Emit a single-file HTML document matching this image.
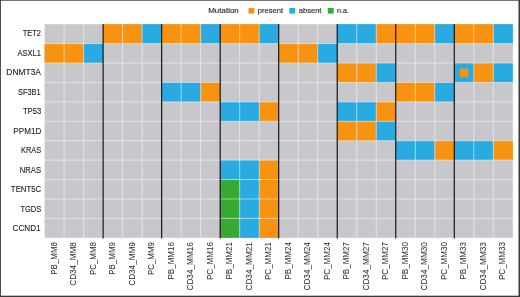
<!DOCTYPE html>
<html lang="en"><head><meta charset="utf-8"><title>Mutation heatmap</title>
<style>
html,body{margin:0;padding:0;background:#fff;}
body{width:520px;height:297px;overflow:hidden;}
svg{display:block;}
text{font-family:"Liberation Sans",Arial,sans-serif;fill:#231f20;stroke:#231f20;stroke-width:0.12px;}
.ax{font-size:9px;}
.cx{font-size:8.3px;stroke:none;fill:#2b2829;}
.lg{font-size:7.5px;}
</style></head><body>
<svg width="520" height="297" viewBox="0 0 520 297">
<rect x="0" y="0" width="520" height="297" fill="#fff"/>
<rect x="44.58" y="24.20" width="468.24" height="213.62" fill="#C8C7CC"/>
<rect x="103.11" y="24.20" width="19.51" height="19.42" fill="#F89312"/>
<rect x="122.62" y="24.20" width="19.51" height="19.42" fill="#F89312"/>
<rect x="142.13" y="24.20" width="19.51" height="19.42" fill="#29ABE2"/>
<rect x="161.64" y="24.20" width="19.51" height="19.42" fill="#F89312"/>
<rect x="181.15" y="24.20" width="19.51" height="19.42" fill="#F89312"/>
<rect x="200.66" y="24.20" width="19.51" height="19.42" fill="#29ABE2"/>
<rect x="220.17" y="24.20" width="19.51" height="19.42" fill="#F89312"/>
<rect x="239.68" y="24.20" width="19.51" height="19.42" fill="#F89312"/>
<rect x="259.19" y="24.20" width="19.51" height="19.42" fill="#29ABE2"/>
<rect x="337.23" y="24.20" width="19.51" height="19.42" fill="#29ABE2"/>
<rect x="356.74" y="24.20" width="19.51" height="19.42" fill="#29ABE2"/>
<rect x="376.25" y="24.20" width="19.51" height="19.42" fill="#F89312"/>
<rect x="395.76" y="24.20" width="19.51" height="19.42" fill="#F89312"/>
<rect x="415.27" y="24.20" width="19.51" height="19.42" fill="#F89312"/>
<rect x="434.78" y="24.20" width="19.51" height="19.42" fill="#29ABE2"/>
<rect x="454.29" y="24.20" width="19.51" height="19.42" fill="#F89312"/>
<rect x="473.80" y="24.20" width="19.51" height="19.42" fill="#F89312"/>
<rect x="493.31" y="24.20" width="19.51" height="19.42" fill="#29ABE2"/>
<rect x="44.58" y="43.62" width="19.51" height="19.42" fill="#F89312"/>
<rect x="64.09" y="43.62" width="19.51" height="19.42" fill="#F89312"/>
<rect x="83.60" y="43.62" width="19.51" height="19.42" fill="#29ABE2"/>
<rect x="278.70" y="43.62" width="19.51" height="19.42" fill="#F89312"/>
<rect x="298.21" y="43.62" width="19.51" height="19.42" fill="#F89312"/>
<rect x="317.72" y="43.62" width="19.51" height="19.42" fill="#29ABE2"/>
<rect x="337.23" y="63.04" width="19.51" height="19.42" fill="#F89312"/>
<rect x="356.74" y="63.04" width="19.51" height="19.42" fill="#F89312"/>
<rect x="376.25" y="63.04" width="19.51" height="19.42" fill="#29ABE2"/>
<rect x="454.29" y="63.04" width="19.51" height="19.42" fill="#29ABE2"/>
<rect x="460.00" y="68.60" width="8.3" height="8.3" fill="#F89312"/>
<rect x="473.80" y="63.04" width="19.51" height="19.42" fill="#F89312"/>
<rect x="493.31" y="63.04" width="19.51" height="19.42" fill="#29ABE2"/>
<rect x="161.64" y="82.46" width="19.51" height="19.42" fill="#29ABE2"/>
<rect x="181.15" y="82.46" width="19.51" height="19.42" fill="#29ABE2"/>
<rect x="200.66" y="82.46" width="19.51" height="19.42" fill="#F89312"/>
<rect x="395.76" y="82.46" width="19.51" height="19.42" fill="#F89312"/>
<rect x="415.27" y="82.46" width="19.51" height="19.42" fill="#F89312"/>
<rect x="434.78" y="82.46" width="19.51" height="19.42" fill="#29ABE2"/>
<rect x="220.17" y="101.88" width="19.51" height="19.42" fill="#29ABE2"/>
<rect x="239.68" y="101.88" width="19.51" height="19.42" fill="#29ABE2"/>
<rect x="259.19" y="101.88" width="19.51" height="19.42" fill="#F89312"/>
<rect x="337.23" y="101.88" width="19.51" height="19.42" fill="#29ABE2"/>
<rect x="356.74" y="101.88" width="19.51" height="19.42" fill="#29ABE2"/>
<rect x="376.25" y="101.88" width="19.51" height="19.42" fill="#F89312"/>
<rect x="337.23" y="121.30" width="19.51" height="19.42" fill="#F89312"/>
<rect x="356.74" y="121.30" width="19.51" height="19.42" fill="#F89312"/>
<rect x="376.25" y="121.30" width="19.51" height="19.42" fill="#29ABE2"/>
<rect x="395.76" y="140.72" width="19.51" height="19.42" fill="#29ABE2"/>
<rect x="415.27" y="140.72" width="19.51" height="19.42" fill="#29ABE2"/>
<rect x="434.78" y="140.72" width="19.51" height="19.42" fill="#F89312"/>
<rect x="454.29" y="140.72" width="19.51" height="19.42" fill="#29ABE2"/>
<rect x="473.80" y="140.72" width="19.51" height="19.42" fill="#29ABE2"/>
<rect x="493.31" y="140.72" width="19.51" height="19.42" fill="#F89312"/>
<rect x="220.17" y="160.14" width="19.51" height="19.42" fill="#29ABE2"/>
<rect x="239.68" y="160.14" width="19.51" height="19.42" fill="#29ABE2"/>
<rect x="259.19" y="160.14" width="19.51" height="19.42" fill="#F89312"/>
<rect x="220.17" y="179.56" width="19.51" height="19.42" fill="#38AA34"/>
<rect x="239.68" y="179.56" width="19.51" height="19.42" fill="#29ABE2"/>
<rect x="259.19" y="179.56" width="19.51" height="19.42" fill="#F89312"/>
<rect x="220.17" y="198.98" width="19.51" height="19.42" fill="#38AA34"/>
<rect x="239.68" y="198.98" width="19.51" height="19.42" fill="#29ABE2"/>
<rect x="259.19" y="198.98" width="19.51" height="19.42" fill="#F89312"/>
<rect x="220.17" y="218.40" width="19.51" height="19.42" fill="#38AA34"/>
<rect x="239.68" y="218.40" width="19.51" height="19.42" fill="#29ABE2"/>
<rect x="259.19" y="218.40" width="19.51" height="19.42" fill="#F89312"/>
<path d="M64.09 24.20V237.82M83.60 24.20V237.82M122.62 24.20V237.82M142.13 24.20V237.82M181.15 24.20V237.82M200.66 24.20V237.82M239.68 24.20V237.82M259.19 24.20V237.82M298.21 24.20V237.82M317.72 24.20V237.82M356.74 24.20V237.82M376.25 24.20V237.82M415.27 24.20V237.82M434.78 24.20V237.82M473.80 24.20V237.82M493.31 24.20V237.82M44.58 43.62H512.82M44.58 63.04H512.82M44.58 82.46H512.82M44.58 101.88H512.82M44.58 121.30H512.82M44.58 140.72H512.82M44.58 160.14H512.82M44.58 179.56H512.82M44.58 198.98H512.82M44.58 218.40H512.82" stroke="#fff" stroke-width="0.9" stroke-opacity="0.55" fill="none"/>
<path d="M103.11 23.90V238.62M161.64 23.90V238.62M220.17 23.90V238.62M278.70 23.90V238.62M337.23 23.90V238.62M395.76 23.90V238.62M454.29 23.90V238.62" stroke="#111" stroke-width="1.15" fill="none"/>
<text class="ax" x="41.05" y="36.30" text-anchor="end" textLength="18.38" lengthAdjust="spacingAndGlyphs">TET2</text>
<text class="ax" x="40.98" y="55.80" text-anchor="end" textLength="23.46" lengthAdjust="spacingAndGlyphs">ASXL1</text>
<text class="ax" x="41.00" y="75.30" text-anchor="end" textLength="34.71" lengthAdjust="spacingAndGlyphs">DNMT3A</text>
<text class="ax" x="40.75" y="94.80" text-anchor="end" textLength="22.81" lengthAdjust="spacingAndGlyphs">SF3B1</text>
<text class="ax" x="41.25" y="114.30" text-anchor="end" textLength="18.31" lengthAdjust="spacingAndGlyphs">TP53</text>
<text class="ax" x="41.25" y="133.80" text-anchor="end" textLength="27.90" lengthAdjust="spacingAndGlyphs">PPM1D</text>
<text class="ax" x="41.25" y="153.30" text-anchor="end" textLength="20.28" lengthAdjust="spacingAndGlyphs">KRAS</text>
<text class="ax" x="41.05" y="172.80" text-anchor="end" textLength="21.31" lengthAdjust="spacingAndGlyphs">NRAS</text>
<text class="ax" x="41.25" y="192.30" text-anchor="end" textLength="30.38" lengthAdjust="spacingAndGlyphs">TENT5C</text>
<text class="ax" x="41.25" y="211.80" text-anchor="end" textLength="20.81" lengthAdjust="spacingAndGlyphs">TGDS</text>
<text class="ax" x="40.55" y="231.30" text-anchor="end" textLength="28.04" lengthAdjust="spacingAndGlyphs">CCND1</text>
<text class="cx" transform="translate(56.69 242.1) rotate(-90)" x="0" y="0" text-anchor="end" textLength="32.6" lengthAdjust="spacingAndGlyphs">PB_MM8</text>
<text class="cx" transform="translate(76.19 242.1) rotate(-90)" x="0" y="0" text-anchor="end" textLength="43.7" lengthAdjust="spacingAndGlyphs">CD34_MM8</text>
<text class="cx" transform="translate(95.70 242.1) rotate(-90)" x="0" y="0" text-anchor="end" textLength="33.0" lengthAdjust="spacingAndGlyphs">PC_MM8</text>
<text class="cx" transform="translate(115.22 242.1) rotate(-90)" x="0" y="0" text-anchor="end" textLength="32.6" lengthAdjust="spacingAndGlyphs">PB_MM9</text>
<text class="cx" transform="translate(134.72 242.1) rotate(-90)" x="0" y="0" text-anchor="end" textLength="43.7" lengthAdjust="spacingAndGlyphs">CD34_MM9</text>
<text class="cx" transform="translate(154.23 242.1) rotate(-90)" x="0" y="0" text-anchor="end" textLength="33.0" lengthAdjust="spacingAndGlyphs">PC_MM9</text>
<text class="cx" transform="translate(173.75 242.1) rotate(-90)" x="0" y="0" text-anchor="end" textLength="37.4" lengthAdjust="spacingAndGlyphs">PB_MM16</text>
<text class="cx" transform="translate(193.26 242.1) rotate(-90)" x="0" y="0" text-anchor="end" textLength="48.4" lengthAdjust="spacingAndGlyphs">CD34_MM16</text>
<text class="cx" transform="translate(212.77 242.1) rotate(-90)" x="0" y="0" text-anchor="end" textLength="37.9" lengthAdjust="spacingAndGlyphs">PC_MM16</text>
<text class="cx" transform="translate(232.28 242.1) rotate(-90)" x="0" y="0" text-anchor="end" textLength="37.4" lengthAdjust="spacingAndGlyphs">PB_MM21</text>
<text class="cx" transform="translate(251.78 242.1) rotate(-90)" x="0" y="0" text-anchor="end" textLength="48.4" lengthAdjust="spacingAndGlyphs">CD34_MM21</text>
<text class="cx" transform="translate(271.30 242.1) rotate(-90)" x="0" y="0" text-anchor="end" textLength="37.9" lengthAdjust="spacingAndGlyphs">PC_MM21</text>
<text class="cx" transform="translate(290.81 242.1) rotate(-90)" x="0" y="0" text-anchor="end" textLength="37.4" lengthAdjust="spacingAndGlyphs">PB_MM24</text>
<text class="cx" transform="translate(310.32 242.1) rotate(-90)" x="0" y="0" text-anchor="end" textLength="48.4" lengthAdjust="spacingAndGlyphs">CD34_MM24</text>
<text class="cx" transform="translate(329.83 242.1) rotate(-90)" x="0" y="0" text-anchor="end" textLength="37.9" lengthAdjust="spacingAndGlyphs">PC_MM24</text>
<text class="cx" transform="translate(349.34 242.1) rotate(-90)" x="0" y="0" text-anchor="end" textLength="37.4" lengthAdjust="spacingAndGlyphs">PB_MM27</text>
<text class="cx" transform="translate(368.85 242.1) rotate(-90)" x="0" y="0" text-anchor="end" textLength="48.4" lengthAdjust="spacingAndGlyphs">CD34_MM27</text>
<text class="cx" transform="translate(388.36 242.1) rotate(-90)" x="0" y="0" text-anchor="end" textLength="37.9" lengthAdjust="spacingAndGlyphs">PC_MM27</text>
<text class="cx" transform="translate(407.87 242.1) rotate(-90)" x="0" y="0" text-anchor="end" textLength="37.4" lengthAdjust="spacingAndGlyphs">PB_MM30</text>
<text class="cx" transform="translate(427.38 242.1) rotate(-90)" x="0" y="0" text-anchor="end" textLength="48.4" lengthAdjust="spacingAndGlyphs">CD34_MM30</text>
<text class="cx" transform="translate(446.89 242.1) rotate(-90)" x="0" y="0" text-anchor="end" textLength="37.9" lengthAdjust="spacingAndGlyphs">PC_MM30</text>
<text class="cx" transform="translate(466.40 242.1) rotate(-90)" x="0" y="0" text-anchor="end" textLength="37.4" lengthAdjust="spacingAndGlyphs">PB_MM33</text>
<text class="cx" transform="translate(485.91 242.1) rotate(-90)" x="0" y="0" text-anchor="end" textLength="48.4" lengthAdjust="spacingAndGlyphs">CD34_MM33</text>
<text class="cx" transform="translate(505.42 242.1) rotate(-90)" x="0" y="0" text-anchor="end" textLength="37.9" lengthAdjust="spacingAndGlyphs">PC_MM33</text>
<text class="lg" x="208.2" y="13.1" textLength="30.6" lengthAdjust="spacingAndGlyphs">Mutation</text>
<rect x="248.5" y="8.0" width="5.8" height="5.6" fill="#F89312"/>
<text class="lg" x="257.8" y="13.1" textLength="25.4" lengthAdjust="spacingAndGlyphs">present</text>
<rect x="289.3" y="8.0" width="5.8" height="5.6" fill="#29ABE2"/>
<text class="lg" x="298.7" y="13.1" textLength="22.8" lengthAdjust="spacingAndGlyphs">absent</text>
<rect x="327.8" y="8.0" width="5.9" height="5.6" fill="#38AA34"/>
<text class="lg" x="336.9" y="13.1" textLength="12.1" lengthAdjust="spacingAndGlyphs">n.a.</text>
<rect x="0" y="0" width="520" height="0.7" fill="#3a3a3a"/>
<rect x="0" y="0" width="0.9" height="297" fill="#3a3a3a"/>
<rect x="518.5" y="0" width="1.5" height="297" fill="#3a3a3a"/>
<rect x="0" y="295.7" width="520" height="1.3" fill="#3a3a3a"/>
</svg>
</body></html>
